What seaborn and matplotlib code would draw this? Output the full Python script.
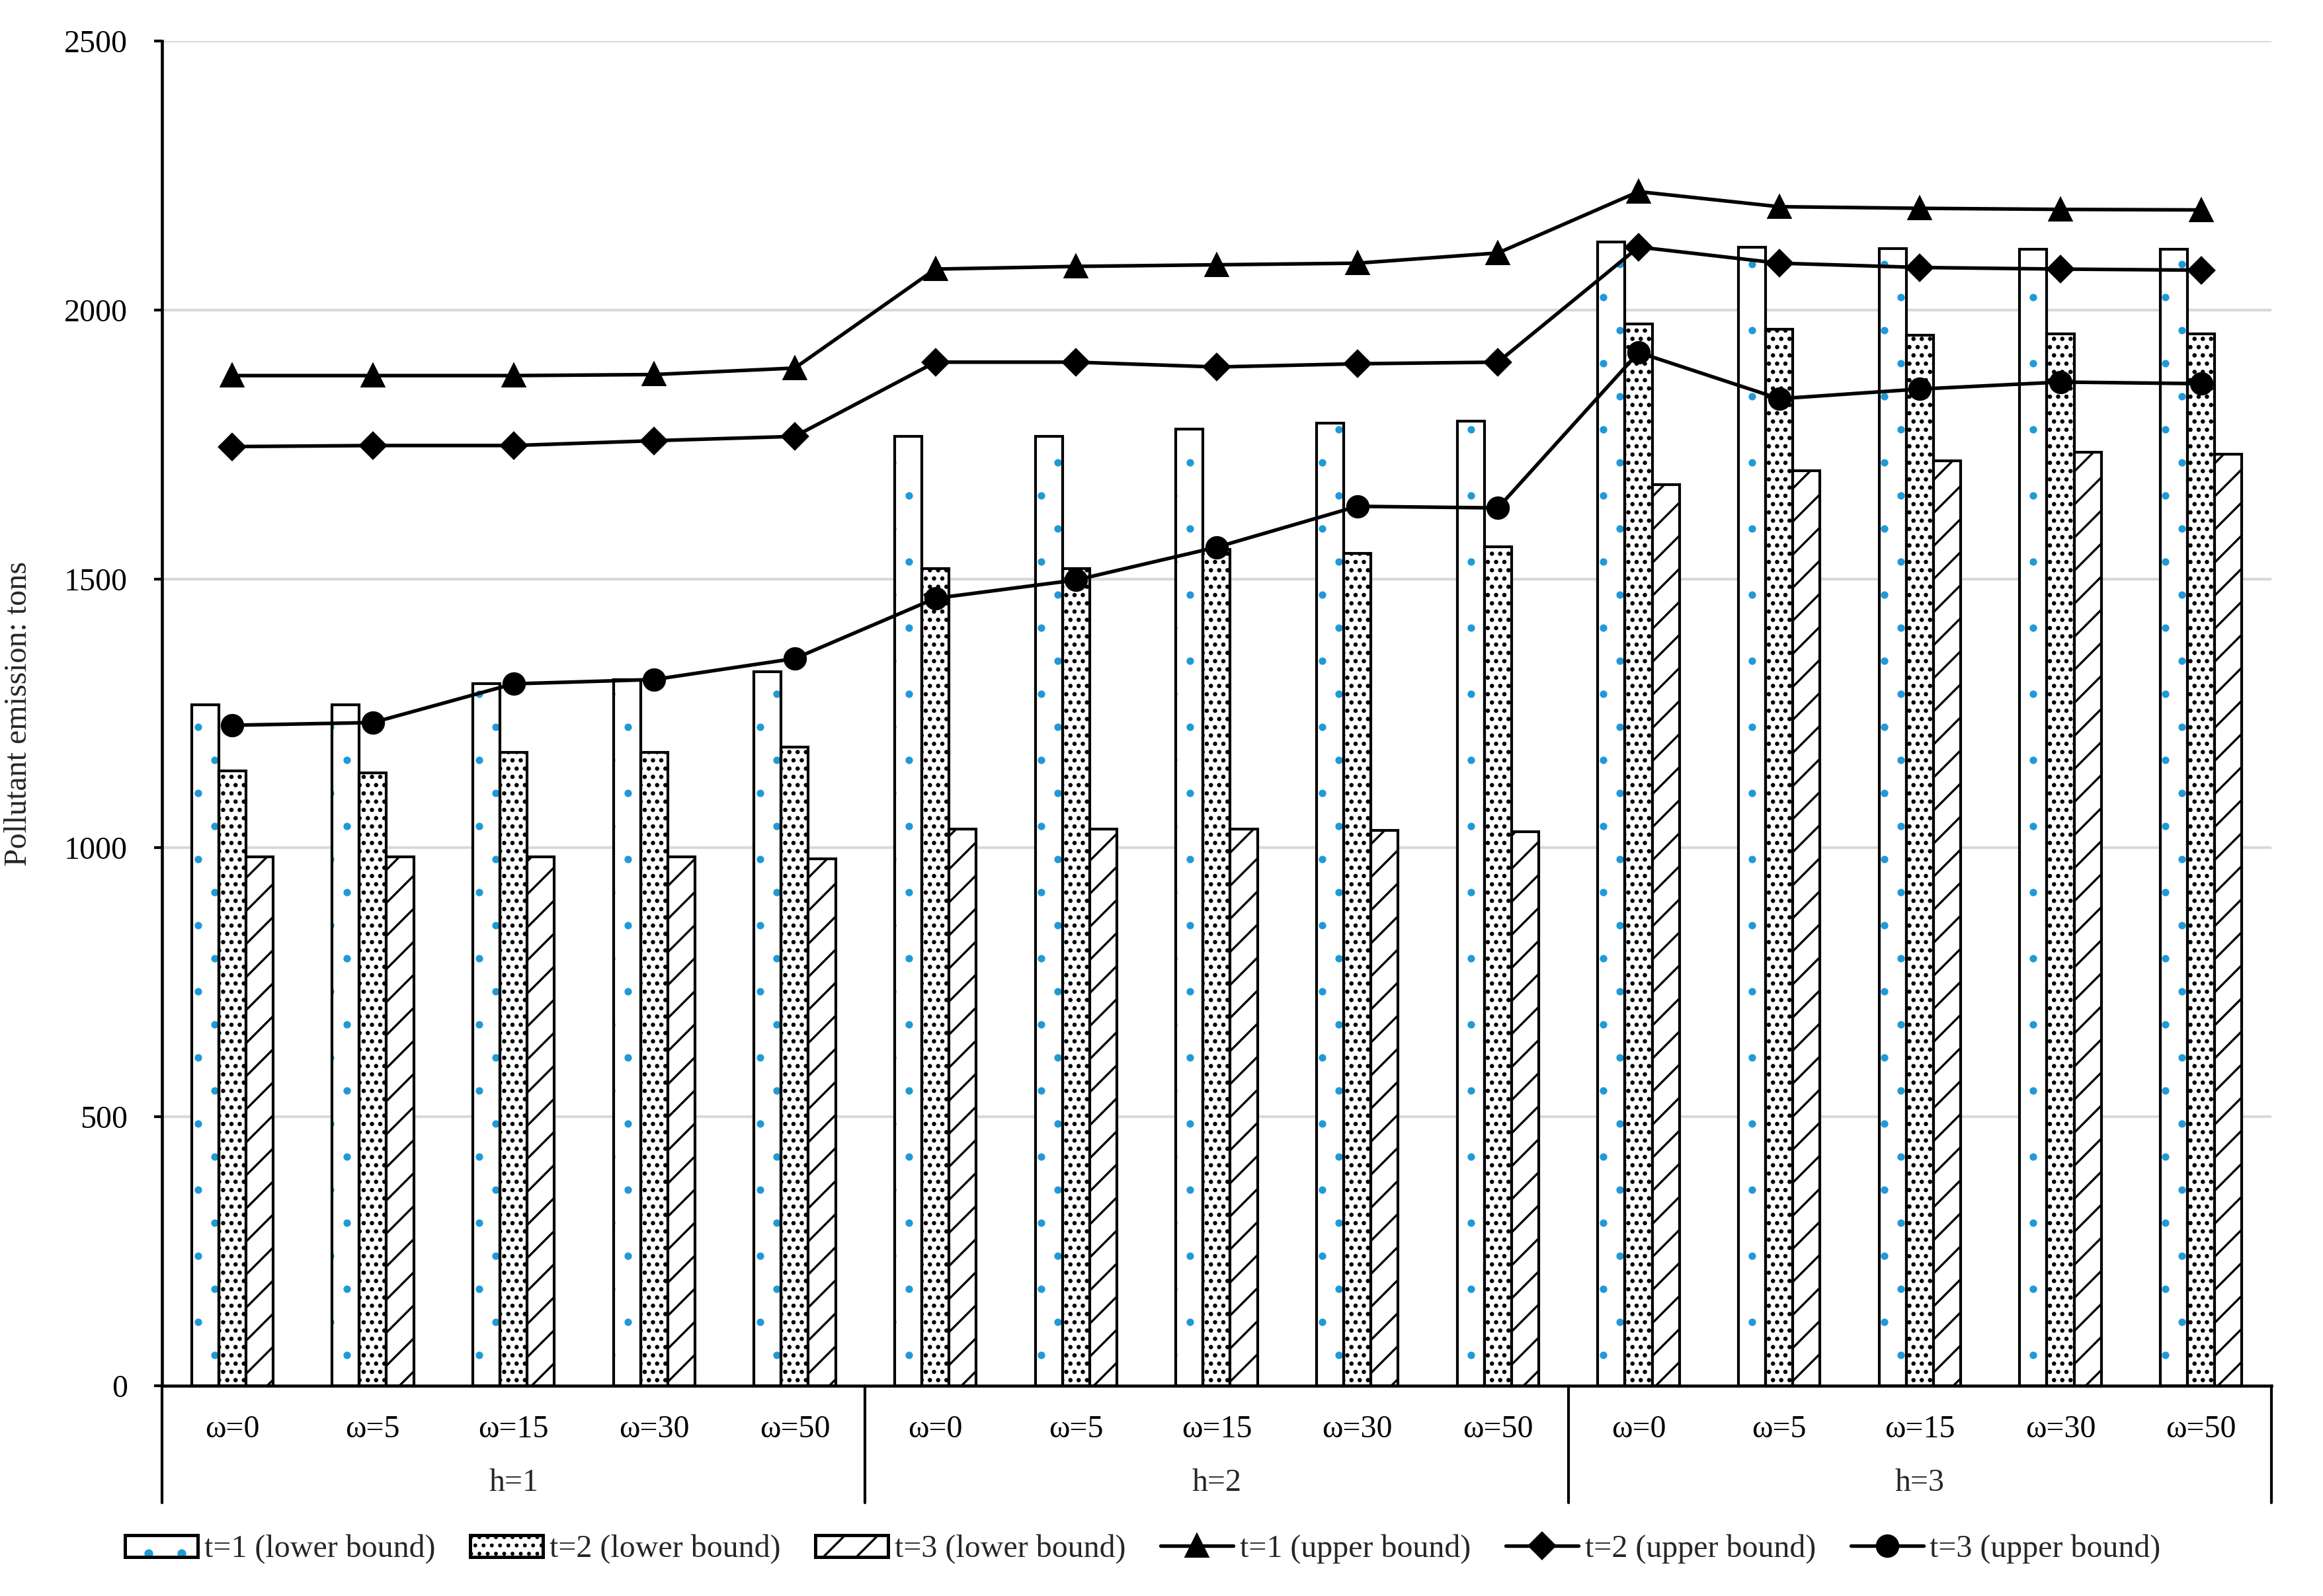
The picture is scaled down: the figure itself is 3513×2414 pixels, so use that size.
import numpy as np
import pandas as pd
import matplotlib
matplotlib.use('Agg')
import matplotlib.pyplot as plt
import seaborn as sns
from matplotlib.patches import Rectangle, Patch
from matplotlib.lines import Line2D
from matplotlib.legend_handler import HandlerTuple

# chart values
h_labels = ['h=1', 'h=2', 'h=3']
omega_labels = ['ω=0', 'ω=5', 'ω=15', 'ω=30', 'ω=50']

lower_t1 = [1266, 1266, 1305, 1313, 1327, 1765, 1765, 1779, 1790, 1793, 2127, 2117, 2114, 2113, 2113]
lower_t2 = [1143, 1140, 1178, 1178, 1187, 1519, 1519, 1555, 1548, 1560, 1974, 1964, 1953, 1955, 1956]
lower_t3 = [983, 983, 983, 983, 980, 1035, 1035, 1035, 1032, 1030, 1675, 1701, 1720, 1736, 1732]
upper_t1 = [1878, 1878, 1878, 1880, 1892, 2076, 2081, 2084, 2087, 2106, 2220, 2192, 2189, 2187, 2186]
upper_t2 = [1746, 1748, 1748, 1757, 1765, 1903, 1903, 1894, 1900, 1903, 2117, 2087, 2079, 2076, 2074]
upper_t3 = [1228, 1233, 1305, 1313, 1352, 1464, 1498, 1559, 1635, 1632, 1921, 1835, 1853, 1866, 1863]

lower_names = ['t=1 (lower bound)', 't=2 (lower bound)', 't=3 (lower bound)']
upper_names = ['t=1 (upper bound)', 't=2 (upper bound)', 't=3 (upper bound)']

cats = [f'{h} {w}' for h in h_labels for w in omega_labels]

lower_df = pd.DataFrame({
    'cat': cats * 3,
    'value': lower_t1 + lower_t2 + lower_t3,
    'series': np.repeat(lower_names, len(cats)),
})
upper_df = pd.DataFrame({
    'cat': cats * 3,
    'value': upper_t1 + upper_t2 + upper_t3,
    'series': np.repeat(upper_names, len(cats)),
})

sns.set_theme(style='white')
plt.rcParams['font.family'] = ['Liberation Serif', 'DejaVu Serif']
plt.rcParams['hatch.linewidth'] = 0.8
FS = 11.5
BLUE = '#1f9ad6'

fig = plt.figure(figsize=(3513 / 300, 2414 / 300), dpi=300)
ax = fig.add_axes([0.0697, 0.1317, 0.9081, 0.8426])

ax.yaxis.grid(True, color='#d9d9d9', linewidth=1.0, zorder=0)
ax.set_axisbelow(True)

sns.barplot(data=lower_df, x='cat', y='value', hue='series', order=cats, hue_order=lower_names,
            palette=['white'] * 3, saturation=1, edgecolor='black', linewidth=1.0,
            width=0.58, errorbar=None, legend=False, ax=ax, zorder=2)

# t=1 bars: blue dots, then a black outline drawn on top
for bar in ax.containers[0]:
    bar.set_edgecolor(BLUE)
    bar.set_linewidth(0)
    bar.set_hatch('.')
    if hasattr(bar, 'set_hatch_linewidth'):
        bar.set_hatch_linewidth(0.3)
    ax.add_patch(Rectangle(bar.get_xy(), bar.get_width(), bar.get_height(),
                           fill=False, edgecolor='black', linewidth=1.0, zorder=2.1))
for bar in ax.containers[1]:
    bar.set_hatch('....')
    if hasattr(bar, 'set_hatch_linewidth'):
        bar.set_hatch_linewidth(0.95)
for bar in ax.containers[2]:
    bar.set_hatch('//')
    if hasattr(bar, 'set_hatch_linewidth'):
        bar.set_hatch_linewidth(0.8)

sns.pointplot(data=upper_df, x='cat', y='value', hue='series', order=cats, hue_order=upper_names,
              palette=['black'] * 3, markers=['^', 'D', 'o'], linestyles=['-', '-', '-'],
              errorbar=None, dodge=False, legend=False, ax=ax,
              markersize=7.5, linewidth=1.3)
for ln in ax.lines:
    ln.set_zorder(4)
    if ln.get_marker() == 'D':
        ln.set_markersize(6.3)

ax.set_ylim(0, 2500)
ax.set_xlim(-0.5, len(cats) - 0.5)
ax.set_yticks(range(0, 2501, 500))
ax.set_xticks(range(len(cats)))
ax.set_xticklabels(omega_labels * 3)
ax.set_xlabel('')
ax.set_ylabel('Pollutant emission: tons', fontsize=FS)
ax.yaxis.set_label_coords(-0.061, 0.5)

ax.tick_params(axis='y', length=3, width=1.0, pad=9.5, labelsize=FS, colors='black', left=True)
ax.tick_params(axis='x', length=0, pad=10.5, labelsize=FS, colors='black')

for side in ['top', 'right']:
    ax.spines[side].set_visible(False)
for side in ['left', 'bottom']:
    ax.spines[side].set_color('black')
    ax.spines[side].set_linewidth(1.1)

# group boxes under the axis
trans = ax.get_xaxis_transform()
for xs in [-0.5, 4.5, 9.5, 14.5]:
    ax.plot([xs, xs], [0, -0.087], color='black', linewidth=1.0, transform=trans, clip_on=False)
for i, h in enumerate(h_labels):
    ax.text(i * 5 + 2, -0.0723, h, transform=trans, ha='center', va='center', fontsize=FS)

handles = [
    (Patch(facecolor='white', edgecolor=BLUE, hatch='.', linewidth=0),
     Patch(fill=False, edgecolor='black', linewidth=1.2)),
    Patch(facecolor='white', edgecolor='black', hatch='....', linewidth=1.2),
    Patch(facecolor='white', edgecolor='black', hatch='//', linewidth=1.2),
    Line2D([], [], color='black', marker='^', markersize=7.5, linewidth=1.3),
    Line2D([], [], color='black', marker='D', markersize=6.3, linewidth=1.3),
    Line2D([], [], color='black', marker='o', markersize=7.5, linewidth=1.3),
]
fig.legend(handles, lower_names + upper_names, loc='center', bbox_to_anchor=(0.492, 0.0294),
           ncol=6, frameon=False, fontsize=FS, handlelength=2.3, handletextpad=0.2,
           columnspacing=1.1, handler_map={tuple: HandlerTuple(ndivide=1, pad=0)})

fig.savefig('out.png', dpi=300)
